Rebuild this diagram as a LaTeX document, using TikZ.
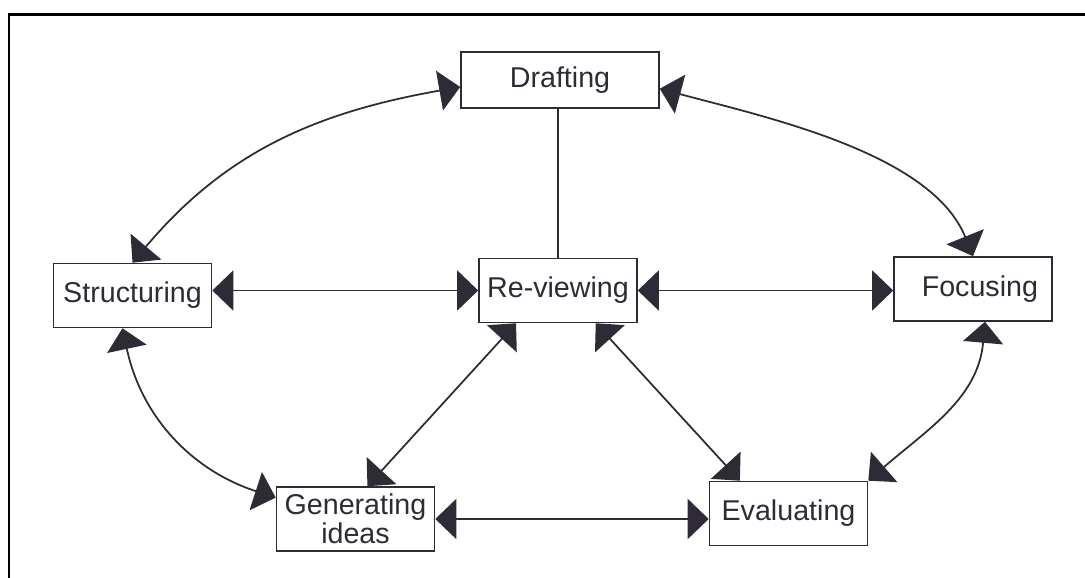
\documentclass[tikz,border=0pt]{standalone}
\usepackage{fontspec}
\setmainfont{Liberation Sans}
\usepackage{xcolor}
\usetikzlibrary{positioning,arrows.meta,calc}
\definecolor{ink}{HTML}{2F2B36}
\tikzset{
stage/.style={
draw=ink,
line width=0.9pt,
minimum width=3.16cm,
minimum height=1.28cm,
align=center,
text=ink,
font=\fontsize{16.3}{16.5}\selectfont
},
link/.style={
draw=ink,
line width=1pt
},
arrow/.style={
{Triangle[length=4.2mm,width=8mm]}-{Triangle[length=4.2mm,width=8mm]},
link
}
}

\begin{document}
\begin{tikzpicture}
\useasboundingbox (0,0) rectangle (21.7,11.56);
\draw[line width=1.7pt] (0.18,0) -- (0.18,11.27) -- (21.7,11.27);

\node[stage,minimum width=3.96cm,minimum height=1.12cm](Drafting) at (11.2,9.96){Drafting};
\node[stage](Structuring) at (2.65,5.65){Structuring};
\node[stage](Reviewing) at (11.16,5.75){Re-viewing};
\node[stage,text width=2.6cm,align=right,inner xsep=0.28cm](Focusing) at (19.46,5.78){Focusing};
\node[stage](Generating) at (7.11,1.18){Generating\\ideas};
\node[stage](Evaluating) at (15.77,1.29){Evaluating};

% spokes
\draw[link](Reviewing.north)--(Reviewing.north |- Drafting.south);
\draw[arrow](Reviewing.west -| Structuring.east)--(Reviewing.west);
\draw[arrow](Reviewing.east)--(Reviewing.east -| Focusing.west);
\draw[arrow](Generating.east)--(Generating.east -| Evaluating.west);
\foreach \x/\y in {Reviewing.218/Generating.70,Reviewing.319/Evaluating.146}
\draw[arrow](\x)--(\y);

% outer ring
\draw[arrow](Drafting.184) to[out=190,in=50] (Structuring.north);
\draw[arrow](Drafting.355) to[out=-15,in=112,looseness=0.8] (Focusing.north);
\draw[arrow](Structuring.253) to[out=-78,in=162] (Generating.165);
\draw[arrow](Focusing.290) to[out=-95,in=41] (Evaluating.north east);
\end{tikzpicture}
\end{document}
